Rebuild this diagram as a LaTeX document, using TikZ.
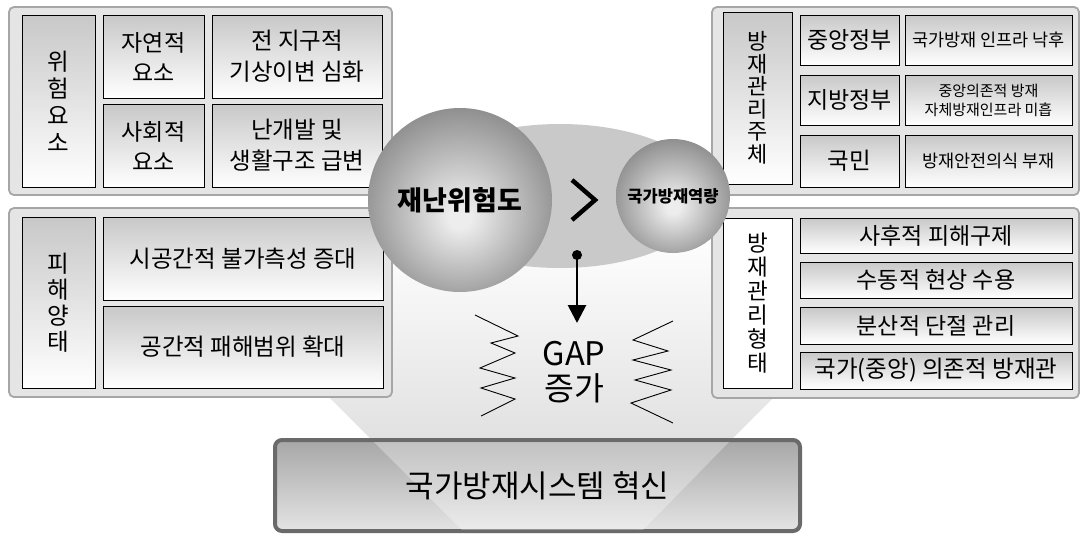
\documentclass[tikz,border=0pt]{standalone}
\usepackage{fontspec}
\setmainfont{Noto Sans CJK KR}
\usetikzlibrary{arrows.meta}
\definecolor{panelline}{HTML}{A6A6A6}
\definecolor{panelfill}{HTML}{E5E5E5}
\definecolor{celltop}{HTML}{C8C8C8}
\definecolor{ellgray}{HTML}{C9C9C9}
\definecolor{funnelbot}{HTML}{D4D4D4}
\definecolor{boxline}{HTML}{6A6A6A}
\definecolor{boxtop}{HTML}{A7A7A7}
\definecolor{boxmid}{HTML}{C4C4C4}
\definecolor{boxbot}{HTML}{E4E4E4}
\definecolor{ballin}{HTML}{EDEDED}
\definecolor{ballout}{HTML}{858585}
\pgfdeclareradialshading{bigball}{\pgfpoint{0bp}{-5bp}}{color(0bp)=(ballin); color(3bp)=(ballin); color(30bp)=(ballout); color(50bp)=(ballout)}
\tikzset{
  panel/.style={draw=panelline, line width=1.8pt, fill=panelfill, rounded corners=5pt, inner sep=0pt},
  cell/.style={draw=black, line width=0.8pt, top color=celltop, bottom color=white, inner sep=0pt, align=center},
  wh/.style 2 args={minimum width=#1pt, minimum height=#2pt},
  fs/.style 2 args={font=\fontsize{#1pt}{#2pt}\selectfont},
  zz/.style={line width=0.9pt, line join=miter},
  ball/.style={circle, inner sep=0pt, shade, shading=bigball, align=center}
}
\begin{document}
\begin{tikzpicture}[x=1pt,y=-1pt]
\useasboundingbox (0,0) rectangle (1081,533);
% background funnel
\shade[top color=white, bottom color=funnelbot] (162,230) -- (941,230) -- (638,533) -- (465,533) -- cycle;
% gray ellipse
\fill[ellgray] (560,196) ellipse [x radius=150pt, y radius=72pt];

% panels
\node[panel, wh={383}{188}] (pA) at (200.5,101) {};
\node[panel, wh={383}{189}] (pB) at (200.5,302.5) {};
\node[panel, wh={367}{188}] (pC) at (895.5,101) {};
\node[panel, wh={367}{190}] (pD) at (895.5,303) {};

% left top
\node[cell, wh={73}{172}, fs={23.5}{27}] (lA) at (58.5,101) {위\\험\\요\\소};
\node[cell, wh={101}{83}, fs={23}{30}] (a11) at (153.5,56.5) {자연적\\요소};
\node[cell, wh={170}{83}, fs={23.5}{31}] (a12) at (297,56.5) {전 지구적\\기상이변 심화};
\node[cell, wh={101}{83}, fs={23}{30}] (a21) at (153.5,145.5) {사회적\\요소};
\node[cell, wh={170}{83}, fs={23.5}{31}] (a22) at (297,145.5) {난개발 및\\생활구조 급변};

% left bottom
\node[cell, wh={73}{171}, fs={23.5}{26}] (lB) at (58.5,302.5) {피\\해\\양\\태};
\node[cell, wh={280}{83}, fs={23.5}{26}] (b1) at (243,258.5) {시공간적 불가측성 증대};
\node[cell, wh={280}{82}, fs={23.5}{26}] (b2) at (243,347) {공간적 패해범위 확대};

% right top
\node[cell, wh={69}{172}, fs={22}{22.5}] (lC) at (757.5,98) {방\\재\\관\\리\\주\\체};
\node[cell, wh={99}{50}, fs={23}{24}] (c11) at (849.5,40) {중앙정부};
\node[cell, wh={167}{50}, fs={17.5}{20}] (c12) at (988.5,40) {국가방재 인프라 낙후};
\node[cell, wh={99}{50}, fs={23}{24}] (c21) at (849.5,100) {지방정부};
\node[cell, wh={167}{50}, fs={15}{19}] (c22) at (988.5,100) {중앙의존적 방재\\자체방재인프라 미흡};
\node[cell, wh={99}{52}, fs={23.5}{24}] (c31) at (849.5,161) {국민};
\node[cell, wh={167}{52}, fs={17.5}{20}] (c32) at (988.5,161) {방재안전의식 부재};

% right bottom
\node[cell, wh={69}{170}, fs={22.5}{24}, top color=white] (lD) at (757.5,303) {방\\재\\관\\리\\형\\태};
\node[cell, wh={272}{35}, fs={23}{24}] (d1) at (936,235.5) {사후적 피해구제};
\node[cell, wh={272}{36}, fs={23}{24}] (d2) at (936,280) {수동적 현상 수용};
\node[cell, wh={272}{37}, fs={23}{24}] (d3) at (936,325.5) {분산적 단절 관리};
\node[cell, wh={272}{37}, fs={23.5}{24}] (d4) at (936,370.5) {국가(중앙) 의존적 방재관};

% circles
\node[ball, minimum size=184pt, fs={27}{30}] (risk) at (460,200) {\bfseries 재난위험도};
\node[ball, minimum size=114pt, fs={16.5}{18}] (cap) at (673,196) {\bfseries 국가방재역량};

% chevron
\draw[line width=4.5pt, miter limit=10] (572,180) -- (595,200) -- (572,220);

% arrow
\node[circle, fill=black, inner sep=0pt, minimum size=10pt] (dot) at (577,255) {};
\coordinate (tip) at (577,323);
\draw[line width=2.8pt, -{Triangle[length=18pt, width=18pt]}] (dot.center) -- (tip);

% zigzags
\draw[zz] (475,315) -- (518,336) -- (491,343) -- (515,353) -- (480,368) -- (515,378) -- (481,388) -- (515,399) -- (481,416);
\draw[zz] (673,321) -- (633,340) -- (668,351) -- (633,360) -- (671,370) -- (635,380) -- (671,390) -- (631,403) -- (673,423);

% GAP
\node[fs={32.5}{35}, align=center, inner sep=0pt] (gap) at (574,372) {GAP\\증가};

% bottom box
\node[draw=boxline, line width=4pt, rounded corners=7pt, wh={525}{91}, top color=boxtop, middle color=boxmid, bottom color=boxbot] (sys) at (537.5,485.5) {};
\begin{scope}
  \clip (277,442) rectangle (798,529);
  \fill[white, opacity=0.3] (372,440) -- (731,440) -- (640,533) -- (465,533) -- cycle;
\end{scope}
\node[fs={31}{32}, inner sep=0pt] (systext) at (sys.center) {국가방재시스템 혁신};
\end{tikzpicture}
\end{document}
